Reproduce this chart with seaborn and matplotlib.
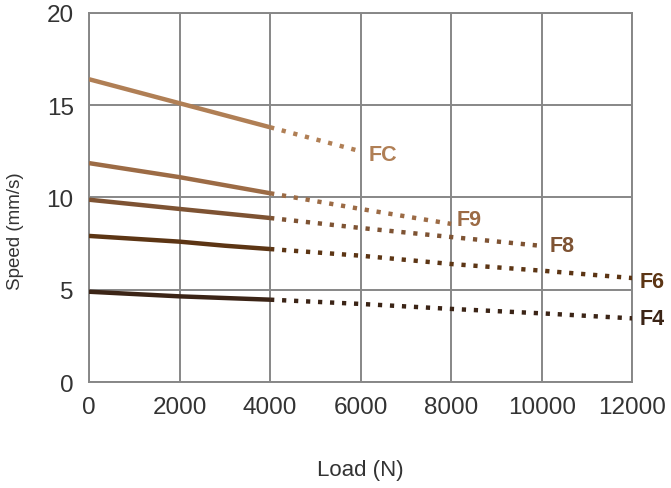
import pandas as pd
import seaborn as sns
import matplotlib.pyplot as plt

# speed vs load per model, solid = rated range, dotted = extended range
models = ['FC', 'F9', 'F8', 'F6', 'F4']
colors = ['#B07F55', '#9C6B45', '#7E5333', '#5C3514', '#3B2416']

solid_load = {
    'FC': [0, 2000, 4000],
    'F9': [0, 2000, 4000],
    'F8': [0, 2000, 4000],
    'F6': [0, 2000, 3000, 4000],
    'F4': [0, 2000, 4000],
}
solid_speed = {
    'FC': [16.4, 15.1, 13.8],
    'F9': [11.86, 11.1, 10.23],
    'F8': [9.88, 9.38, 8.89],
    'F6': [7.92, 7.61, 7.39, 7.21],
    'F4': [4.9, 4.65, 4.47],
}
dotted_load = {
    'FC': [4000, 6000],
    'F9': [4000, 6000, 8000],
    'F8': [4000, 6000, 8000, 10000],
    'F6': [4000, 6000, 8000, 10000, 12000],
    'F4': [4000, 6000, 8000, 10000, 12000],
}
dotted_speed = {
    'FC': [13.8, 12.5],
    'F9': [10.23, 9.38, 8.57],
    'F8': [8.89, 8.35, 7.86, 7.38],
    'F6': [7.21, 6.85, 6.4, 6.04, 5.64],
    'F4': [4.47, 4.24, 3.97, 3.73, 3.46],
}
label_pos = {
    'FC': (6180, 12.3),
    'F9': (8120, 8.82),
    'F8': (10180, 7.42),
    'F6': (12170, 5.45),
    'F4': (12170, 3.47),
}

sns.set_style('white')
plt.rcParams['font.family'] = ['Liberation Sans', 'DejaVu Sans']

fig = plt.figure(figsize=(6.71, 4.89), dpi=100)
ax = fig.add_axes([0.1326, 0.2162, 0.8097, 0.7558])

for m, c in zip(models, colors):
    s = pd.DataFrame({'load': solid_load[m], 'speed': solid_speed[m]})
    d = pd.DataFrame({'load': dotted_load[m], 'speed': dotted_speed[m]})
    sns.lineplot(data=s, x='load', y='speed', color=c, lw=3.2, ax=ax,
                 solid_capstyle='butt', zorder=3)
    sns.lineplot(data=d, x='load', y='speed', color=c, lw=3.2, ax=ax,
                 linestyle=(0, (0.95, 1.75)), dash_capstyle='butt', zorder=3)
    ax.text(label_pos[m][0], label_pos[m][1], m, color=c, fontsize=15.5,
            fontweight='bold', va='center', ha='left', clip_on=False)

ax.set_xlim(0, 12000)
ax.set_ylim(0, 20)
ax.set_xticks(range(0, 12001, 2000))
ax.set_yticks(range(0, 21, 5))
ax.grid(True, color='#878787', lw=1.4)
for sp in ax.spines.values():
    sp.set_color('#878787')
    sp.set_linewidth(1.4)
ax.tick_params(axis='both', length=0, labelsize=17.5, labelcolor='#333333')
ax.tick_params(axis='y', pad=11)
ax.tick_params(axis='x', pad=10)

ax.set_xlabel('Load (N)', fontsize=16, color='#333333')
ax.set_ylabel('Speed (mm/s)', fontsize=13.5, color='#333333')
ax.xaxis.set_label_coords(0.5, -0.236)
ax.yaxis.set_label_coords(-0.136, 0.412)
ax.xaxis.label.set_va('center')
ax.yaxis.label.set_va('center')

fig.savefig('out.png', dpi=100)
